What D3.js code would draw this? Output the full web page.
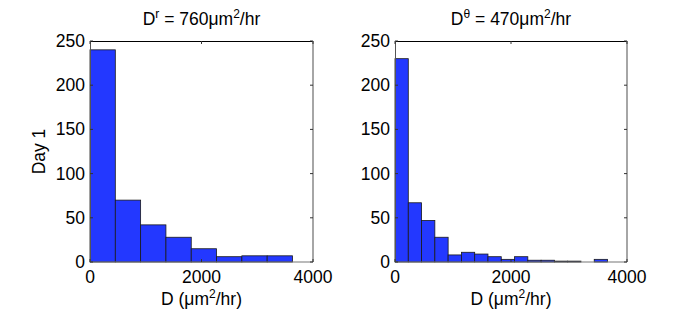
<!DOCTYPE html>
<html>
<head>
<meta charset="utf-8">
<script src="https://cdn.jsdelivr.net/npm/d3@7"></script>
<style>
  body { margin: 0; background: #fff; }
  text { font-family: "Liberation Sans", Arial, sans-serif; fill: #000; }
</style>
</head>
<body>
<div id="chart"></div>
<script>
// histogram counts
const radialCounts = [240, 70, 42, 28, 15, 6, 7, 7];
const radialBinWidth = 454;
const angularCounts = [230, 67, 47, 28, 8, 11, 9, 6, 3, 6, 2, 2, 1, 1, 0, 3];
const angularBinWidth = 229;
const xTicks = [0, 2000, 4000];
const yTicks = [0, 50, 100, 150, 200, 250];
const titleSup = ["r", "\u03b8"];
const titleValues = ["760", "470"];

const width = 692, height = 313;
const svg = d3.select('#chart').append('svg')
    .attr('width', width)
    .attr('height', height);

const panels = [
    { counts: radialCounts, binWidth: radialBinWidth, left: 90, right: 313, sup: titleSup[0], value: titleValues[0] },
    { counts: angularCounts, binWidth: angularBinWidth, left: 395, right: 627, sup: titleSup[1], value: titleValues[1] }
];
const plotTop = 41, plotBottom = 262;
const fontSize = 17.5;
const supSize = 12;

panels.forEach((p, i) => {
    const x = d3.scaleLinear().domain([0, 4000]).range([p.left, p.right]);
    const y = d3.scaleLinear().domain([0, 250]).range([plotBottom, plotTop]);
    const g = svg.append('g');

    // bars
    g.selectAll('rect.bar')
        .data(p.counts)
        .enter().append('rect')
        .attr('class', 'bar')
        .attr('x', (d, j) => x(j * p.binWidth))
        .attr('width', (d, j) => x((j + 1) * p.binWidth) - x(j * p.binWidth))
        .attr('y', d => y(d))
        .attr('height', d => y(0) - y(d))
        .style('fill', '#2338ff')
        .style('stroke', '#1a1a1a')
        .style('stroke-width', 0.8)
        .style('display', d => d > 0 ? null : 'none');

    // box
    g.append('line').attr('x1', p.left).attr('x2', p.right).attr('y1', plotTop + 0.5).attr('y2', plotTop + 0.5)
        .style('stroke', '#000').style('stroke-width', 1);
    g.append('line').attr('x1', p.left + 0.5).attr('x2', p.left + 0.5).attr('y1', plotTop).attr('y2', plotBottom)
        .style('stroke', '#555').style('stroke-width', 1);
    g.append('line').attr('x1', p.right).attr('x2', p.right).attr('y1', plotTop).attr('y2', plotBottom)
        .style('stroke', '#888').style('stroke-width', 1.5);
    g.append('line').attr('x1', p.left).attr('x2', p.right).attr('y1', plotBottom).attr('y2', plotBottom)
        .style('stroke', '#777').style('stroke-width', 1.2);

    // ticks (inward, mirrored)
    xTicks.forEach(t => {
        g.append('line').attr('x1', x(t)).attr('x2', x(t)).attr('y1', plotBottom).attr('y2', plotBottom - 3)
            .style('stroke', '#333');
        g.append('line').attr('x1', x(t)).attr('x2', x(t)).attr('y1', plotTop).attr('y2', plotTop + 3)
            .style('stroke', '#333');
        g.append('text')
            .attr('x', x(t))
            .attr('y', plotBottom + 21)
            .attr('text-anchor', 'middle')
            .style('font-size', fontSize + 'px')
            .text(t);
    });
    yTicks.forEach(t => {
        g.append('line').attr('x1', p.left).attr('x2', p.left + 3).attr('y1', y(t)).attr('y2', y(t))
            .style('stroke', '#333');
        g.append('line').attr('x1', p.right).attr('x2', p.right - 3).attr('y1', y(t)).attr('y2', y(t))
            .style('stroke', '#333');
        g.append('text')
            .attr('x', p.left - 5)
            .attr('y', y(t) + 6)
            .attr('text-anchor', 'end')
            .style('font-size', fontSize + 'px')
            .text(t);
    });

    const cx = (p.left + p.right) / 2;

    // title
    const title = g.append('text')
        .attr('x', cx)
        .attr('y', 25)
        .attr('text-anchor', 'middle')
        .style('font-size', fontSize + 'px');
    title.append('tspan').text('D');
    title.append('tspan').attr('dy', -7).style('font-size', supSize + 'px').text(p.sup);
    title.append('tspan').attr('dy', 7).text(' = ' + p.value + '\u03bcm');
    title.append('tspan').attr('dy', -7).style('font-size', supSize + 'px').text('2');
    title.append('tspan').attr('dy', 7).text('/hr');

    // x label
    const xl = g.append('text')
        .attr('x', cx)
        .attr('y', 305)
        .attr('text-anchor', 'middle')
        .style('font-size', fontSize + 'px');
    xl.append('tspan').text('D (\u03bcm');
    xl.append('tspan').attr('dy', -7).style('font-size', supSize + 'px').text('2');
    xl.append('tspan').attr('dy', 7).text('/hr)');
});

// row label
svg.append('text')
    .attr('transform', 'translate(45,' + ((plotTop + plotBottom) / 2) + ') rotate(-90)')
    .attr('text-anchor', 'middle')
    .style('font-size', fontSize + 'px')
    .text('Day 1');
</script>
</body>
</html>
